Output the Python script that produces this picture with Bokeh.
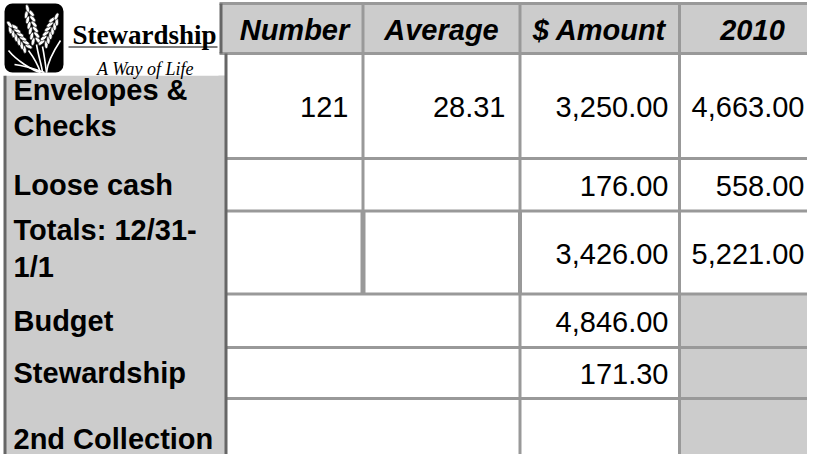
import math
from bokeh.plotting import figure
from bokeh.models import Range1d
from bokeh.core.properties import value
from bokeh.embed import file_html
from bokeh.resources import INLINE

# ---------------- data ----------------
row_labels = ["Envelopes &\nChecks", "Loose cash", "Totals: 12/31-\n1/1",
              "Budget", "Stewardship", "2nd Collection"]
col_headers = ["Number", "Average", "$ Amount", "2010"]
number_vals = [121, None, None, None, None, None]
average_vals = [28.31, None, None, None, None, None]
amount_vals = [3250.00, 176.00, 3426.00, 4846.00, 171.30, None]
prior_2010_vals = [4663.00, 558.00, 5221.00, None, None, None]
merged_number_average = [False, False, False, True, True, True]
shaded_2010 = [False, False, False, True, True, True]
logo_title = "Stewardship"
logo_tagline = "A Way of Life"

# ---------------- layout ----------------
W, H = 807, 454
header_top, header_bottom = 3, 53
row_edges = [53, 158, 210.5, 293.5, 347, 398, 478]
col_edges = [225.5, 362.5, 519.5, 679, 830]
label_left = 4.5
label_top = 75
label_dy = [2, 0, -4, 0, 0, 0]
header_cx = [294, 441, 599, 752]
value_rx = [348, 505, 668, 804]
GRID = "#999999"
DARK = "#666666"
SHADE = "#cccccc"
FONT = value("Liberation Sans")
SERIF = value("Liberation Serif")
FS = "29px"

p = figure(width=W, height=H, output_backend="svg", toolbar_location=None,
           x_range=Range1d(0, W), y_range=Range1d(H, 0),
           x_axis_type=None, y_axis_type=None, min_border=0,
           outline_line_color=None, background_fill_color="white",
           border_fill_color="white")
p.grid.visible = False

n = len(row_labels)
row_top = row_edges[:-1]
row_bot = row_edges[1:]
row_mid = [(a + b) / 2 for a, b in zip(row_top, row_bot)]

# fills
p.quad(left=[220], right=[830], top=[header_top], bottom=[header_bottom],
       fill_color=SHADE, line_color=None)
p.quad(left=[label_left], right=[col_edges[0]], top=[label_top], bottom=[H + 30],
       fill_color=SHADE, line_color=None)
sh = [i for i in range(n) if shaded_2010[i]]
p.quad(left=[col_edges[3]] * len(sh), right=[col_edges[4]] * len(sh),
       top=[row_top[i] for i in sh], bottom=[row_bot[i] for i in sh],
       fill_color=SHADE, line_color=None)

# horizontal grid lines
hx0, hx1, hy = [219, 219], [830, 830], [header_top, header_bottom]
for y in row_edges[1:-1]:
    hx0.append(col_edges[0]); hx1.append(830); hy.append(y)
p.segment(x0=hx0, y0=hy, x1=hx1, y1=hy, line_color=GRID, line_width=3)

# vertical grid lines
vx, vy0, vy1, vw = [col_edges[1]], [header_top], [header_bottom], [3]
for i in range(n):
    if not merged_number_average[i]:
        vx.append(col_edges[1]); vy0.append(row_top[i]); vy1.append(row_bot[i])
        vw.append(5 if i == 2 else 3)
for c in (2, 3):
    vx.append(col_edges[c]); vy0.append(header_top); vy1.append(H + 30); vw.append(3)
vx.append(col_edges[2]); vy0.append(row_top[2]); vy1.append(row_bot[2]); vw.append(4)
p.segment(x0=vx, y0=vy0, x1=vx, y1=vy1, line_color=GRID, line_width=vw)

# dark borders of the label column
p.segment(x0=[220.5, col_edges[0], label_left], y0=[header_top, header_bottom, label_top],
          x1=[220.5, col_edges[0], label_left], y1=[header_bottom, H + 30, H + 30],
          line_color=DARK, line_width=3)

# header texts
p.text(x=header_cx, y=[(header_top + header_bottom) / 2 + 1] * 4, text=col_headers,
       text_align="center", text_baseline="middle", text_font=FONT,
       text_font_style="bold italic", text_font_size=FS, text_color="black")

# row labels
p.text(x=[13] * n, y=[m + d for m, d in zip(row_mid, label_dy)], text=row_labels,
       text_align="left", text_baseline="middle", text_font=FONT, text_font_style="bold",
       text_font_size=FS, text_color="black", text_line_height=1.15)

# values
def fmt(v, kind):
    if v is None:
        return ""
    if kind == "int":
        return f"{v:,.0f}"
    return f"{v:,.2f}"

cols = [(number_vals, "int"), (average_vals, "f"), (amount_vals, "f"), (prior_2010_vals, "f")]
vxs, vys, vts = [], [], []
for c, (vals, kind) in enumerate(cols):
    for i, v in enumerate(vals):
        if v is not None:
            vxs.append(value_rx[c]); vys.append(row_mid[i] + 1); vts.append(fmt(v, kind))
p.text(x=vxs, y=vys, text=vts, text_align="right", text_baseline="middle",
       text_font=FONT, text_font_size=FS, text_color="black")

# ---------------- logo ----------------
p.quad(left=[0], right=[218], top=[0], bottom=[label_top], fill_color="white", line_color=None)
p.quad(left=[4], right=[63], top=[3], bottom=[72], fill_color="black", line_color=None,
       border_radius=8)
# stalks and leaves
p.bezier(x0=[28, 36, 42, 8, 14, 60], y0=[50, 44, 46, 50, 64, 40],
         x1=[40, 42, 46, 40, 44, 46], y1=[72, 72, 72, 72, 72, 72],
         cx0=[34, 38, 44, 16, 28, 52], cy0=[58, 56, 56, 60, 66, 52],
         cx1=[38, 41, 45, 32, 38, 47], cy1=[66, 64, 64, 70, 70, 62],
         line_color="white", line_width=1.6)
heads = [((28, 50), (9, 24)), ((36, 44), (27, 8)), ((42, 46), (56, 16))]
ex, ey, ea = [], [], []
for (sx, sy), (tx, ty) in heads:
    dx, dy = tx - sx, ty - sy
    L = math.hypot(dx, dy)
    ux, uy = dx / L, dy / L
    px_, py_ = -uy, ux
    base = math.atan2(-dy, dx)
    for k in range(6):
        t = 0.1 + 0.15 * k
        cx, cy = sx + dx * t, sy + dy * t
        for side in (-1, 1):
            ex.append(cx + side * 2.6 * px_)
            ey.append(cy + side * 2.6 * py_)
            ea.append(base + side * 0.45)
    ex.append(tx); ey.append(ty); ea.append(base)
p.ellipse(x=ex, y=ey, width=8, height=3.6, angle=ea, fill_color="white",
          line_color="black", line_width=0.6)
# title and tagline
p.text(x=[144], y=[34], text=[logo_title], text_align="center", text_baseline="alphabetic",
       text_font=SERIF, text_font_style="bold", text_font_size="27px", text_color="black")
p.segment(x0=[68], y0=[46.5], x1=[217], y1=[46.5], line_color="black", line_width=1)
p.text(x=[145], y=[68], text=[logo_tagline], text_align="center", text_baseline="alphabetic",
       text_font=SERIF, text_font_style="italic", text_font_size="18px", text_color="black")

open("out.html", "w").write(file_html(p, INLINE))
